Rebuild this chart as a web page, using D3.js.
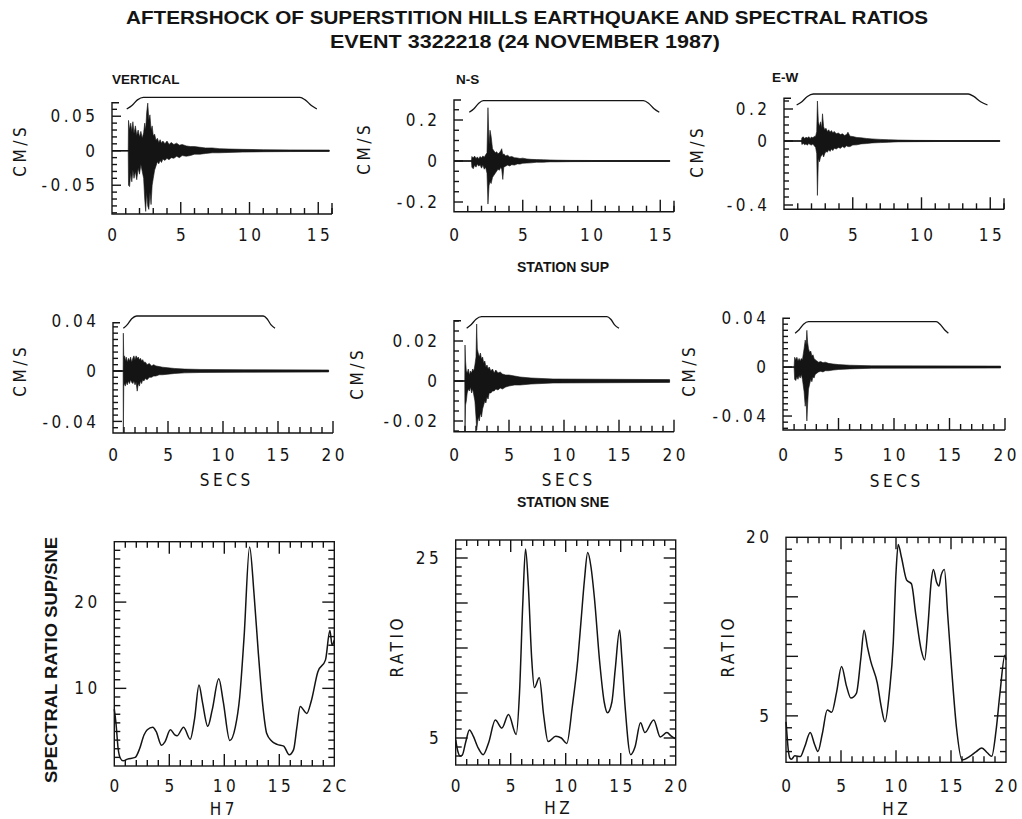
<!DOCTYPE html>
<html><head><meta charset="utf-8">
<script src="https://cdn.jsdelivr.net/npm/d3@7"></script>
<style>
body{margin:0;background:#fff}
svg{display:block}
.num{font-family:"DejaVu Sans Condensed","DejaVu Sans",sans-serif;font-stretch:condensed;font-size:17px;letter-spacing:3.5px;fill:#141414}
.bold{font-family:"Liberation Sans",Arial,sans-serif;font-weight:bold;fill:#141414}
</style></head><body>
<svg id="c" width="1022" height="819"></svg>
<script>
// ---------------- DATA ----------------
const titleLines = ["AFTERSHOCK OF SUPERSTITION HILLS EARTHQUAKE AND SPECTRAL RATIOS","EVENT 3322218 (24 NOVEMBER 1987)"];
const componentLabels = ["VERTICAL","N-S","E-W"];
const stationLabels = ["STATION SUP","STATION SNE"];
const velocityUnit = "CM/S";
const timeUnit = "SECS";
const ratioLabels = ["SPECTRAL RATIO SUP/SNE","RATIO","RATIO"];
const freqLabels = ["H7","HZ","HZ"];

// tick labels
const supYTicks = [[0.05,0,-0.05],[0.2,0,-0.2],[0.2,0,-0.4]];
const sneYTicks = [[0.04,0,-0.04],[0.02,0,-0.02],[0.04,0,-0.04]];
const supXTicks = ["0","5","10","15"];
const sneXTicks = ["0","5","10","15","20"];
const hzXTickSets = [["0","5","10","15","2C"],["0","5","10","15","20"],["0","5","10","15","20"]];
const ratioYTicks = [[10,20],[5,25],[5,20]];

// seismogram envelopes: [time s, upper cm/s, lower cm/s]
const supVertical = [[0,0,0],[1.18,0,0],[1.2,0.044,-0.050],[1.28,0.030,-0.052],[1.36,0.040,-0.032],[1.44,0.028,-0.045],[1.52,0.042,-0.028],[1.6,0.025,-0.040],[1.7,0.036,-0.030],[1.8,0.022,-0.042],[1.9,0.030,-0.025],[2.0,0.020,-0.034],[2.1,0.028,-0.020],[2.2,0.018,-0.030],[2.3,0.026,-0.040],[2.38,0.040,-0.070],[2.45,0.030,-0.088],[2.52,0.055,-0.060],[2.6,0.069,-0.080],[2.68,0.045,-0.085],[2.76,0.052,-0.060],[2.84,0.030,-0.078],[2.92,0.036,-0.050],[3.0,0.022,-0.040],[3.1,0.024,-0.028],[3.2,0.015,-0.022],[3.3,0.018,-0.016],[3.4,0.012,-0.019],[3.5,0.016,-0.014],[3.6,0.011,-0.017],[3.7,0.014,-0.012],[3.85,0.010,-0.014],[4.0,0.014,-0.011],[4.15,0.009,-0.013],[4.3,0.012,-0.010],[4.5,0.009,-0.011],[4.7,0.011,-0.008],[4.9,0.008,-0.010],[5.1,0.009,-0.007],[5.4,0.007,-0.008],[5.7,0.006,-0.007],[6.0,0.006,-0.005],[6.4,0.005,-0.005],[6.8,0.004,-0.004],[7.3,0.004,-0.003],[7.8,0.003,-0.003],[8.5,0.0025,-0.0025],[9.5,0.002,-0.002],[11,0.0015,-0.0015],[13,0.0012,-0.0012],[15.8,0.001,-0.001]];
const supNS = [[0,0,0],[1.27,0,0],[1.3,0.022,-0.030],[1.4,0.015,-0.038],[1.5,0.024,-0.020],[1.6,0.012,-0.030],[1.7,0.020,-0.015],[1.8,0.010,-0.025],[1.9,0.022,-0.018],[2.0,0.015,-0.035],[2.1,0.025,-0.020],[2.2,0.018,-0.040],[2.3,0.030,-0.030],[2.4,0.040,-0.060],[2.47,0.260,-0.210],[2.55,0.080,-0.120],[2.62,0.150,-0.100],[2.7,0.120,-0.110],[2.8,0.060,-0.080],[2.9,0.050,-0.070],[3.0,0.040,-0.060],[3.1,0.045,-0.050],[3.2,0.035,-0.040],[3.3,0.040,-0.045],[3.4,0.050,-0.030],[3.47,0.060,-0.040],[3.55,0.030,-0.090],[3.62,0.035,-0.030],[3.75,0.025,-0.025],[3.9,0.028,-0.020],[4.05,0.020,-0.024],[4.2,0.022,-0.018],[4.4,0.016,-0.020],[4.6,0.015,-0.014],[4.8,0.012,-0.015],[5.0,0.014,-0.011],[5.3,0.010,-0.010],[5.6,0.008,-0.009],[6.0,0.007,-0.006],[6.5,0.006,-0.006],[7.0,0.005,-0.004],[7.5,0.004,-0.004],[8.5,0.003,-0.003],[10,0.0025,-0.0025],[12,0.002,-0.002],[15.7,0.002,-0.002]];
const supEW = [[0,0,0],[1.27,0,0],[1.3,0.020,-0.022],[1.4,0.026,-0.015],[1.5,0.015,-0.024],[1.6,0.024,-0.018],[1.7,0.018,-0.026],[1.8,0.027,-0.015],[1.9,0.016,-0.022],[2.0,0.025,-0.025],[2.1,0.020,-0.018],[2.2,0.028,-0.030],[2.3,0.030,-0.040],[2.38,0.060,-0.080],[2.43,0.250,-0.340],[2.5,0.120,-0.110],[2.58,0.090,-0.130],[2.66,0.120,-0.100],[2.74,0.080,-0.090],[2.8,0.170,-0.080],[2.88,0.090,-0.100],[2.96,0.070,-0.080],[3.05,0.080,-0.065],[3.15,0.060,-0.070],[3.25,0.070,-0.055],[3.35,0.055,-0.065],[3.45,0.065,-0.050],[3.55,0.050,-0.060],[3.65,0.060,-0.045],[3.8,0.045,-0.050],[3.95,0.050,-0.040],[4.1,0.040,-0.046],[4.25,0.045,-0.035],[4.4,0.035,-0.042],[4.55,0.040,-0.030],[4.65,0.055,-0.035],[4.8,0.030,-0.035],[5.0,0.028,-0.025],[5.3,0.022,-0.024],[5.6,0.020,-0.018],[6.0,0.016,-0.016],[6.4,0.013,-0.012],[7.0,0.010,-0.010],[7.6,0.008,-0.008],[8.3,0.006,-0.005],[9.5,0.004,-0.004],[11.5,0.003,-0.003],[15.7,0.0025,-0.0025]];
const sneVertical = [[0,0,0],[0.92,0,0],[0.94,0.030,-0.049],[0.98,0.010,-0.012],[1.05,0.012,-0.010],[1.12,0.008,-0.012],[1.2,0.011,-0.009],[1.3,0.007,-0.011],[1.4,0.010,-0.008],[1.5,0.008,-0.010],[1.6,0.011,-0.007],[1.7,0.007,-0.009],[1.8,0.010,-0.010],[1.9,0.012,-0.008],[2.0,0.009,-0.011],[2.1,0.012,-0.009],[2.2,0.010,-0.016],[2.3,0.011,-0.010],[2.4,0.009,-0.012],[2.5,0.010,-0.008],[2.6,0.008,-0.010],[2.7,0.009,-0.007],[2.8,0.007,-0.008],[2.95,0.007,-0.006],[3.1,0.005,-0.007],[3.3,0.006,-0.005],[3.5,0.004,-0.005],[3.7,0.005,-0.004],[3.9,0.004,-0.004],[4.2,0.0035,-0.003],[4.5,0.003,-0.003],[5.0,0.0025,-0.0025],[5.6,0.002,-0.002],[6.5,0.0015,-0.0015],[8,0.0012,-0.0012],[12,0.001,-0.001],[19.6,0.0008,-0.0008]];
const sneNS = [[0,0,0],[0.98,0,0],[1.0,0.018,-0.025],[1.05,0.010,-0.012],[1.12,0.005,-0.010],[1.2,0.004,-0.006],[1.3,0.006,-0.004],[1.4,0.003,-0.005],[1.5,0.005,-0.003],[1.6,0.004,-0.006],[1.7,0.006,-0.004],[1.8,0.005,-0.007],[1.9,0.008,-0.010],[2.0,0.012,-0.018],[2.06,0.0285,-0.0245],[2.12,0.016,-0.022],[2.2,0.014,-0.018],[2.3,0.012,-0.020],[2.4,0.014,-0.016],[2.5,0.011,-0.018],[2.6,0.012,-0.014],[2.7,0.009,-0.012],[2.8,0.010,-0.010],[2.9,0.007,-0.011],[3.0,0.008,-0.008],[3.1,0.006,-0.009],[3.2,0.007,-0.006],[3.35,0.005,-0.006],[3.5,0.006,-0.005],[3.65,0.004,-0.005],[3.8,0.0055,-0.004],[4.0,0.004,-0.0045],[4.2,0.0045,-0.0035],[4.4,0.0035,-0.004],[4.7,0.003,-0.003],[5.0,0.003,-0.0025],[5.5,0.0025,-0.002],[6.0,0.002,-0.002],[7.0,0.0015,-0.0015],[9,0.001,-0.001],[19.6,0.0007,-0.0007]];
const sneEW = [[0,0,0],[1.0,0,0],[1.05,0.008,-0.010],[1.15,0.006,-0.011],[1.25,0.008,-0.008],[1.35,0.005,-0.010],[1.45,0.007,-0.007],[1.55,0.005,-0.009],[1.65,0.007,-0.006],[1.75,0.006,-0.010],[1.9,0.015,-0.020],[2.0,0.022,-0.032],[2.08,0.018,-0.026],[2.15,0.030,-0.044],[2.22,0.020,-0.030],[2.3,0.015,-0.018],[2.4,0.012,-0.014],[2.5,0.013,-0.010],[2.6,0.009,-0.012],[2.7,0.010,-0.008],[2.8,0.007,-0.009],[2.9,0.006,-0.006],[3.05,0.005,-0.005],[3.2,0.004,-0.004],[3.4,0.0045,-0.0035],[3.6,0.0035,-0.004],[3.8,0.004,-0.003],[4.1,0.003,-0.003],[4.5,0.0025,-0.0025],[5.0,0.002,-0.002],[6,0.0015,-0.0015],[8,0.001,-0.001],[19.6,0.0008,-0.0008]];

// taper windows: [time s, level 0..1]
const supVerticalTaper = [[1.07,0],[1.45,0.3],[1.85,0.78],[2.28,1],[13.67,1],[14.05,0.78],[14.5,0.3],[14.9,0]];
const supNSTaper = [[1.11,0],[1.45,0.3],[1.8,0.78],[2.13,1],[13.77,1],[14.15,0.78],[14.55,0.3],[14.93,0]];
const supEWTaper = [[0.92,0],[1.3,0.3],[1.7,0.78],[2.13,1],[13.4,1],[13.8,0.78],[14.3,0.3],[14.8,0]];
const sneVerticalTaper = [[0.94,0],[1.3,0.3],[1.7,0.78],[2.15,1],[13.66,1],[14.0,0.78],[14.35,0.3],[14.73,0]];
const sneNSTaper = [[1.15,0],[1.55,0.3],[2.0,0.78],[2.5,1],[13.9,1],[14.25,0.78],[14.6,0.3],[15.0,0]];
const sneEWTaper = [[1.09,0],[1.45,0.3],[1.85,0.78],[2.3,1],[13.8,1],[14.15,0.78],[14.55,0.3],[14.9,0]];

// spectral ratios SUP/SNE: [Hz, ratio]
const ratioVertical = [[0,7.6],[0.15,6.0],[0.35,3.0],[0.55,1.9],[0.8,1.6],[1.2,1.8],[1.9,2.0],[2.3,3.0],[2.7,4.6],[3.0,5.2],[3.5,5.5],[3.8,5.0],[4.3,3.4],[4.6,3.8],[5.1,5.2],[5.5,4.6],[5.7,4.5],[6.3,5.5],[6.9,4.1],[7.3,6.5],[7.7,10.4],[8.0,8.5],[8.5,5.6],[8.9,7.5],[9.5,11.1],[9.9,8.5],[10.5,3.95],[11.0,5.5],[11.4,9.0],[11.8,16],[12.3,26.4],[12.7,21],[13.1,14],[13.5,8],[13.85,4.8],[14.3,3.9],[14.8,3.5],[15.4,3.3],[15.9,2.3],[16.3,2.9],[16.6,5.5],[16.9,7.9],[17.5,7.1],[17.9,8.5],[18.5,11.9],[19.2,13.3],[19.6,16.7],[19.8,15.0],[20,15.6]];
const ratioNS = [[0,4.8],[0.2,3.5],[0.4,3.0],[0.6,3.1],[0.9,4.5],[1.25,5.9],[1.6,5.2],[2.0,4.0],[2.5,3.15],[3.0,4.5],[3.6,7.0],[4.2,6.1],[4.8,7.6],[5.5,5.4],[5.8,10],[6.1,20],[6.35,26.0],[6.6,22],[6.9,14],[7.15,10.6],[7.6,11.7],[8.0,7.5],[8.4,4.6],[9.1,5.2],[9.6,5.0],[10.1,4.4],[10.6,8.5],[11.1,13.7],[11.4,18.1],[11.7,22.5],[12.0,25.6],[12.3,24],[12.6,20.7],[13.1,13.3],[13.5,9.0],[13.8,7.8],[14.2,9.0],[14.5,12.6],[14.9,17.0],[15.1,14],[15.4,8.5],[15.9,3.15],[16.3,4.0],[16.8,6.7],[17.2,5.6],[18.0,7.0],[18.6,5.1],[19.2,5.6],[19.6,5.2],[20,4.9]];
const ratioEW = [[0,4.5],[0.06,3.8],[0.2,2.2],[0.36,1.44],[0.5,1.36],[0.8,1.64],[1.3,1.58],[1.7,2.4],[2.2,3.6],[2.6,2.6],[2.9,2.0],[3.3,3.5],[3.75,5.5],[4.15,5.3],[4.6,7.0],[5.05,9.15],[5.5,7.5],[5.9,6.5],[6.4,6.9],[6.8,9.8],[7.1,12.2],[7.4,10.8],[7.7,9.6],[8.3,7.75],[8.65,5.8],[9.0,4.5],[9.4,7.0],[9.75,11.1],[10.0,17],[10.2,19.4],[10.5,18.3],[10.97,16.4],[11.4,16.1],[11.8,13.5],[12.3,10.5],[12.6,9.7],[12.9,12.5],[13.2,16.3],[13.4,17.3],[13.7,16.2],[13.9,15.9],[14.1,16.8],[14.4,17.3],[14.7,13.5],[15.06,8.9],[15.5,4.0],[16.0,1.3],[16.7,1.6],[17.3,2.0],[17.8,2.3],[18.3,1.9],[18.7,1.6],[19.1,3.8],[19.45,6.9],[19.9,10.1],[20,9.7]];

// ---------------- LAYOUT ----------------
const INK = "#141414";
const LS = 3.5; // letter spacing used by the numeric font
const svg = d3.select("#c");

const seisPanels = [
 {d:supVertical, tp:supVerticalTaper, yt:supYTicks[0], xt:supXTicks, xMax:16, x0:112, x1:332, top:102.7, bottom:214, yDom:[-0.0917,0.0696], yMinor:0.01, tHi:97.3, tLo:109, lab:[20,152], xlabY:235},
 {d:supNS, tp:supNSTaper, yt:supYTicks[1], xt:supXTicks, xMax:16, x0:454, x1:674, top:100, bottom:211.7, yDom:[-0.2473,0.2976], yMinor:0.05, tHi:100.7, tLo:112.3, lab:[364,150], xlabY:235},
 {d:supEW, tp:supEWTaper, yt:supYTicks[2], xt:supXTicks, xMax:16, x0:784, x1:1004, top:98.3, bottom:209.3, yDom:[-0.4269,0.2669], yMinor:0.05, tHi:94, tLo:105, lab:[697,153], xlabY:235},
 {d:sneVertical, tp:sneVerticalTaper, yt:sneYTicks[0], xt:sneXTicks, xMax:20, x0:113, x1:333, top:322.7, bottom:433, yDom:[-0.0492,0.0383], yMinor:0.005, tHi:316, tLo:328.3, lab:[20,372], xlabY:455, secs:[225,480]},
 {d:sneNS, tp:sneNSTaper, yt:sneYTicks[1], xt:sneXTicks, xMax:20, x0:454, x1:674, top:320.7, bottom:431.7, yDom:[-0.02535,0.03015], yMinor:0.005, tHi:316.7, tLo:328.3, lab:[357,375], xlabY:455, secs:[567,480]},
 {d:sneEW, tp:sneEWTaper, yt:sneYTicks[2], xt:sneXTicks, xMax:20, x0:783, x1:1005, top:318.3, bottom:430, yDom:[-0.0514,0.0398], yMinor:0.005, tHi:321.7, tLo:333.3, lab:[689,372], xlabY:455, secs:[895,481]}
];

const ratioPanels = [
 {d:ratioVertical, yt:ratioYTicks[0], major:[10,20], xt:hzXTickSets[0], x0:114.3, x1:334.3, top:541.7, bottom:766, yDom:[1,27], ylab:ratioLabels[0], labPos:[50.5,660], boldLab:true, flab:freqLabels[0], fPos:[222,809]},
 {d:ratioNS, yt:ratioYTicks[1], major:[5,10,15,20,25], xt:hzXTickSets[1], x0:455.7, x1:675.7, top:540, bottom:765, yDom:[2,27], ylab:ratioLabels[1], labPos:[397,648], flab:freqLabels[1], fPos:[557,808]},
 {d:ratioEW, yt:ratioYTicks[2], major:[5,10,15,20], xt:hzXTickSets[2], x0:786, x1:1006, top:537.3, bottom:762.3, yDom:[1.1,20], ylab:ratioLabels[2], labPos:[728,648], flab:freqLabels[2], fPos:[895,809]}
];

function multiples(dom, step){
  const out=[]; const a=Math.ceil(dom[0]/step-1e-6), b=Math.floor(dom[1]/step+1e-6);
  for(let k=a;k<=b;k++) out.push(+(k*step).toFixed(6));
  return out;
}
const near=(a,b)=>Math.abs(a-b)<1e-6;

// ---------------- TITLES ----------------
svg.append("text").attr("class","bold").attr("x",527).attr("y",24).attr("text-anchor","middle")
  .attr("font-size",19).attr("textLength",802).attr("lengthAdjust","spacingAndGlyphs").text(titleLines[0]);
svg.append("text").attr("class","bold").attr("x",525).attr("y",48).attr("text-anchor","middle")
  .attr("font-size",19).attr("textLength",390).attr("lengthAdjust","spacingAndGlyphs").text(titleLines[1]);
[[112,84],[456,84],[772,82]].forEach((p,i)=>{
  svg.append("text").attr("class","bold").attr("x",p[0]).attr("y",p[1]).attr("font-size",13.5).text(componentLabels[i]);
});
svg.append("text").attr("class","bold").attr("x",563).attr("y",272).attr("text-anchor","middle").attr("font-size",14).text(stationLabels[0]);
svg.append("text").attr("class","bold").attr("x",563).attr("y",507).attr("text-anchor","middle").attr("font-size",14).text(stationLabels[1]);

// ---------------- SEISMOGRAM PANELS ----------------
seisPanels.forEach(p=>{
  const x=d3.scaleLinear().domain([0,p.xMax]).range([p.x0,p.x1]);
  const y=d3.scaleLinear().domain(p.yDom).range([p.bottom,p.top]);
  const g=svg.append("g");
  const ax=g.append("g").attr("stroke",INK).attr("stroke-width",1.4).attr("fill","none");
  ax.append("path").attr("d",`M${p.x0+7},${p.top}H${p.x0}V${p.bottom}H${p.x1}`);
  multiples(p.yDom,p.yMinor).forEach(v=>{
    const big=p.yt.some(t=>near(t,v));
    ax.append("line").attr("x1",p.x0).attr("x2",p.x0+(big?9:5)).attr("y1",y(v)).attr("y2",y(v));
  });
  for(let t=1;t<=Math.floor(p.xMax);t++){
    const big=t%5===0;
    ax.append("line").attr("x1",x(t)).attr("x2",x(t)).attr("y1",p.bottom).attr("y2",p.bottom-(big?12:6));
  }
  if(p.xMax%5!==0) ax.append("line").attr("x1",p.x1).attr("x2",p.x1).attr("y1",p.bottom).attr("y2",p.bottom-11);
  p.yt.forEach(v=>{
    g.append("text").attr("class","num").attr("x",p.x0-17+LS).attr("y",y(v)).attr("dy","0.36em")
      .attr("text-anchor","end").text(String(v));
  });
  p.xt.forEach(s=>{
    g.append("text").attr("class","num").attr("x",x(+s)+LS/2).attr("y",p.xlabY).attr("dy","0.36em")
      .attr("text-anchor","middle").text(s);
  });
  g.append("text").attr("class","num").attr("transform",`translate(${p.lab[0]},${p.lab[1]}) rotate(-90)`)
    .attr("dy","0.36em").attr("text-anchor","middle").attr("dx",LS/2).text(velocityUnit);
  if(p.secs) g.append("text").attr("class","num").attr("x",p.secs[0]+LS/2).attr("y",p.secs[1]).attr("dy","0.36em")
    .attr("text-anchor","middle").text(timeUnit);
  const last=p.d[p.d.length-1][0];
  g.append("line").attr("x1",x(0)).attr("x2",x(last)).attr("y1",y(0)).attr("y2",y(0)).attr("stroke",INK).attr("stroke-width",1.3);
  const area=d3.area().x(d=>x(d[0])).y0(d=>y(d[2])).y1(d=>y(d[1])).curve(d3.curveLinear);
  g.append("path").datum(p.d).attr("d",area).attr("fill",INK).attr("stroke",INK).attr("stroke-width",0.6);
  const ty=d3.scaleLinear().domain([0,1]).range([p.tLo,p.tHi]);
  const tl=d3.line().x(d=>x(d[0])).y(d=>ty(d[1])).curve(d3.curveMonotoneX);
  g.append("path").datum(p.tp).attr("d",tl).attr("fill","none").attr("stroke",INK).attr("stroke-width",1.3);
});

// ---------------- SPECTRAL RATIO PANELS ----------------
ratioPanels.forEach(p=>{
  const x=d3.scaleLinear().domain([0,20]).range([p.x0,p.x1]);
  const y=d3.scaleLinear().domain(p.yDom).range([p.bottom,p.top]);
  const g=svg.append("g");
  const ax=g.append("g").attr("stroke",INK).attr("stroke-width",1.4).attr("fill","none");
  ax.append("rect").attr("x",p.x0).attr("y",p.top).attr("width",p.x1-p.x0).attr("height",p.bottom-p.top);
  for(let t=1;t<20;t++){
    const L=t%5===0?12:6;
    ax.append("line").attr("x1",x(t)).attr("x2",x(t)).attr("y1",p.bottom).attr("y2",p.bottom-L);
    ax.append("line").attr("x1",x(t)).attr("x2",x(t)).attr("y1",p.top).attr("y2",p.top+L);
  }
  multiples(p.yDom,1).forEach(v=>{
    if(near(y(v),p.top)||near(y(v),p.bottom)) return;
    const L=p.major.some(m=>near(m,v))?12:6;
    ax.append("line").attr("x1",p.x0).attr("x2",p.x0+L).attr("y1",y(v)).attr("y2",y(v));
    ax.append("line").attr("x1",p.x1).attr("x2",p.x1-L).attr("y1",y(v)).attr("y2",y(v));
  });
  p.yt.forEach(v=>{
    g.append("text").attr("class","num").attr("x",p.x0-17+LS).attr("y",y(v)).attr("dy","0.36em")
      .attr("text-anchor","end").text(String(v));
  });
  p.xt.forEach((s,i)=>{
    g.append("text").attr("class","num").attr("x",x(i*5)+LS/2).attr("y",786).attr("dy","0.36em")
      .attr("text-anchor","middle").text(s);
  });
  if(p.boldLab){
    g.append("text").attr("class","bold").attr("transform",`translate(${p.labPos[0]},${p.labPos[1]}) rotate(-90)`)
      .attr("dy","0.36em").attr("text-anchor","middle").attr("font-size",17).attr("textLength",246)
      .attr("lengthAdjust","spacingAndGlyphs").text(p.ylab);
  } else {
    g.append("text").attr("class","num").attr("transform",`translate(${p.labPos[0]},${p.labPos[1]}) rotate(-90)`)
      .attr("dy","0.36em").attr("dx",LS/2).attr("text-anchor","middle").text(p.ylab);
  }
  g.append("text").attr("class","num").attr("x",p.fPos[0]+LS/2).attr("y",p.fPos[1]).attr("dy","0.36em")
    .attr("font-size",15).attr("text-anchor","middle").text(p.flab);
  const line=d3.line().x(d=>x(d[0])).y(d=>y(d[1])).curve(d3.curveMonotoneX);
  g.append("path").datum(p.d).attr("d",line).attr("fill","none").attr("stroke",INK).attr("stroke-width",1.5);
});
</script>
</body></html>
